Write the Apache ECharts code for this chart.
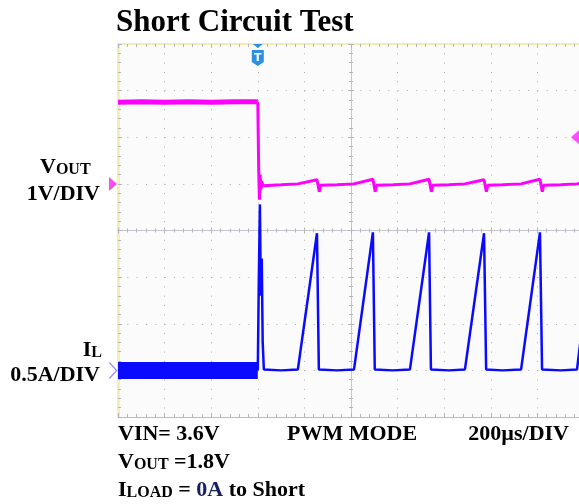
<!DOCTYPE html>
<html><head><meta charset="utf-8">
<script src="https://cdn.jsdelivr.net/npm/echarts@6/dist/echarts.min.js"></script>
<style>html,body{margin:0;padding:0;background:#fff}#c{width:579px;height:504px}</style>
</head><body><div id="c"></div>
<script>
// ---- data (time in µs, 200 µs/div; VOUT in V, 1 V/div; IL in A, 0.5 A/div) ----
const timeRange = [0, 2000];
const timePerDiv = 200;
const voutRange = [-5, 3];
const ilRange = [-0.5, 3.5];
const triggerTime = 600;
const triggerLevel = 1.0;

const voutPreT = [0, 100, 200, 300, 400, 500, 600];
const voutPreV = [1.75, 1.76, 1.75, 1.76, 1.75, 1.76, 1.76];
const voutPostT = [600, 604, 607, 610, 613, 617, 622, 630, 700, 772, 854, 864, 870, 940,
  1013, 1094, 1104, 1110, 1180, 1253, 1335, 1345, 1351, 1420, 1489, 1571, 1581, 1587, 1650,
  1730, 1811, 1821, 1827, 1900, 1970, 2000];
const voutPostV = [1.76, 0.26, -0.34, 0.2, -0.12, 0.06, -0.04, -0.03, -0.02, 0.0, 0.09, -0.17, -0.03, -0.02,
  0.0, 0.1, -0.17, -0.03, -0.02, 0.0, 0.1, -0.17, -0.03, -0.02, 0.0, 0.09, -0.17, -0.03, -0.02,
  0.0, 0.1, -0.17, -0.03, -0.02, 0.0, 0.03];

const ilPreT = [0, 600];
const ilPreA = [0, 0];
const ilPostT = [600, 604, 609, 613, 617, 621, 626, 700, 772, 854, 862, 940, 1013, 1094, 1102, 1180,
  1253, 1335, 1343, 1420, 1489, 1571, 1580, 1650, 1730, 1811, 1820, 1900, 1970, 2000];
const ilPostA = [0, 0.9, 1.78, 0.8, 1.2, 0.3, 0.01, 0.0, 0.01, 1.47, 0.01, 0.0, 0.01, 1.48, 0.01, 0.0,
  0.01, 1.48, 0.01, 0.0, 0.01, 1.47, 0.01, 0.0, 0.01, 1.48, 0.01, 0.0, 0.01, 0.63];

const titleText = 'Short Circuit Test';

const zip = (a, b) => a.map((v, i) => [v, b[i]]);
const SERIF = '"Liberation Serif", "Times New Roman", serif';

const dotted = { color: '#adadad', width: 1, type: [1, 8.32] };
const tickGray = { color: '#b4b4bc', width: 1 };

function deco(extra) {
  return Object.assign({ type: 'value', axisLabel: { show: false }, splitLine: { show: false } }, extra);
}

const chart = echarts.init(document.getElementById('c'), null, { renderer: 'canvas' });

function txt(text, pos, rich) {
  return Object.assign({
    text: text, padding: 0, itemGap: 0,
    textStyle: { color: '#000', fontFamily: SERIF, fontWeight: 'bold', fontSize: 22, rich: rich }
  }, pos);
}
const R = {
  b: { fontFamily: SERIF, fontWeight: 'bold', fontSize: 22, lineHeight: 22, color: '#000', verticalAlign: 'bottom' },
  s: { fontFamily: SERIF, fontWeight: 'bold', fontSize: 16, lineHeight: 18, color: '#000', verticalAlign: 'bottom' },
  n: { fontFamily: SERIF, fontWeight: 'bold', fontSize: 22, lineHeight: 22, color: '#17205e', verticalAlign: 'bottom' },
  t: { fontFamily: SERIF, fontWeight: 'bold', fontSize: 31, lineHeight: 31, color: '#000', verticalAlign: 'bottom' }
};

chart.setOption({
  animation: false,
  backgroundColor: '#ffffff',
  title: [
    txt('{t|' + titleText + '}', { left: 116, top: 7 }, R),
    txt('{b|V}{s|OUT}', { left: 40, top: 156 }, R),
    txt('{b|1V/DIV}', { right: 479, top: 183 }, R),
    txt('{b|I}{s|L}', { right: 477, top: 339 }, R),
    txt('{b|0.5A/DIV}', { right: 479, top: 364 }, R),
    txt('{b|VIN= 3.6V}', { left: 118, top: 423 }, R),
    txt('{b|PWM MODE}', { left: 287, top: 423 }, R),
    txt('{b|200µs/DIV}', { right: 10, top: 423 }, R),
    txt('{b|V}{s|OUT}{b| =1.8V}', { left: 118, top: 451 }, R),
    txt('{b|I}{s|LOAD}{b| = }{n|0A}{b| to Short}', { left: 118, top: 479 }, R)
  ],
  grid: { left: 118, top: 44, width: 466, height: 373, show: true, backgroundColor: '#fbfbfc', borderWidth: 0, containLabel: false, outerBoundsMode: 'none' },
  xAxis: [
    deco({ min: timeRange[0], max: timeRange[1], interval: timePerDiv, position: 'bottom',
      axisLine: { show: true, onZero: false, lineStyle: { color: '#b7b9d8', width: 1 } },
      axisTick: { show: true, inside: true, length: 4, lineStyle: tickGray },
      minorTick: { show: true, splitNumber: 5, length: 3, lineStyle: tickGray },
      splitLine: { show: true, lineStyle: dotted } }),
    deco({ min: timeRange[0], max: timeRange[1], interval: timePerDiv, position: 'top',
      axisLine: { show: true, onZero: false, lineStyle: { color: '#f2edb2', width: 2 } },
      axisTick: { show: true, inside: true, length: 4, lineStyle: tickGray },
      minorTick: { show: true, splitNumber: 5, length: 3, lineStyle: tickGray } }),
    deco({ min: -1000, max: 1000, interval: timePerDiv, position: 'bottom',
      axisLine: { show: true, onZero: true, onZeroAxisIndex: 2, lineStyle: { color: '#c6c6cc', width: 1 } },
      axisTick: { show: true, inside: true, length: 3, lineStyle: tickGray },
      minorTick: { show: true, splitNumber: 5, length: 2, lineStyle: tickGray } }),
    deco({ min: -1000, max: 1000, interval: timePerDiv, position: 'bottom',
      axisLine: { show: false, onZero: true, onZeroAxisIndex: 2 },
      axisTick: { show: true, inside: false, length: 3, lineStyle: tickGray },
      minorTick: { show: true, splitNumber: 5, length: 2, lineStyle: tickGray } })
  ],
  yAxis: [
    deco({ min: voutRange[0], max: voutRange[1], interval: 1, position: 'left',
      axisLine: { show: true, onZero: false, lineStyle: { color: '#f4efb6', width: 3 } },
      axisTick: { show: true, inside: true, length: 4, lineStyle: tickGray },
      minorTick: { show: true, splitNumber: 5, length: 3, lineStyle: tickGray },
      splitLine: { show: true, lineStyle: dotted } }),
    { type: 'value', min: ilRange[0], max: ilRange[1], interval: 0.5, show: false, axisLine: { onZero: false } },
    deco({ min: -4, max: 4, interval: 1, position: 'left',
      axisLine: { show: true, onZero: true, onZeroAxisIndex: 2, lineStyle: { color: '#c6c6cc', width: 1 } },
      axisTick: { show: true, inside: true, length: 3, lineStyle: tickGray },
      minorTick: { show: true, splitNumber: 5, length: 2, lineStyle: tickGray } }),
    deco({ min: -4, max: 4, interval: 1, position: 'left',
      axisLine: { show: false, onZero: true, onZeroAxisIndex: 2 },
      axisTick: { show: true, inside: false, length: 3, lineStyle: tickGray },
      minorTick: { show: true, splitNumber: 5, length: 2, lineStyle: tickGray } })
  ],
  series: [
    { name: 'VOUT before', type: 'line', xAxisIndex: 0, yAxisIndex: 0, data: zip(voutPreT, voutPreV),
      symbol: 'none', clip: false, lineStyle: { color: '#ff00ff', width: 5 }, itemStyle: { color: '#ff00ff' } },
    { name: 'VOUT', type: 'line', xAxisIndex: 0, yAxisIndex: 0, data: zip(voutPostT, voutPostV),
      symbol: 'none', clip: false, lineStyle: { color: '#ff00ff', width: 3 }, itemStyle: { color: '#ff00ff' },
      markPoint: {
        label: { show: false },
        data: [
          { coord: [timeRange[0], 0], symbol: 'triangle', symbolRotate: -90, symbolSize: [14, 8], symbolOffset: [-5, 0],
            itemStyle: { color: '#f24ef2' } },
          { coord: [timeRange[1], triggerLevel], symbol: 'triangle', symbolRotate: 90, symbolSize: [14, 8], symbolOffset: [-9, 0],
            itemStyle: { color: '#ff4cff' } },
          { coord: [triggerTime, voutRange[1]], symbol: 'path://M1,0 L11,0 L6,4 Z M0,6 L12,6 L12,18 L6,22 L0,18 Z',
            symbolSize: [12, 22], symbolOffset: [0, 11], itemStyle: { color: '#2b8fe3' },
            label: { show: true, formatter: 'T', color: '#fff', fontSize: 11, fontWeight: 'bold', fontFamily: 'DejaVu Sans', offset: [0, 3], position: 'inside' } }
        ]
      } },
    { name: 'IL before', type: 'line', xAxisIndex: 0, yAxisIndex: 1, data: zip(ilPreT, ilPreA),
      symbol: 'none', clip: false, lineStyle: { color: '#0a0aff', width: 17, cap: 'butt' }, itemStyle: { color: '#0000ff' } },
    { name: 'IL', type: 'line', xAxisIndex: 0, yAxisIndex: 1, data: zip(ilPostT, ilPostA),
      symbol: 'none', clip: false, lineStyle: { color: '#0a0aff', width: 2.5 }, itemStyle: { color: '#0000ff' },
      markPoint: {
        label: { show: false },
        data: [
          { coord: [timeRange[0], 0], symbol: 'path://M0,0 L2,0 L10,8 L2,16 L0,16 L8,8 Z', symbolSize: [9, 16], symbolOffset: [-5, 0],
            itemStyle: { color: '#8f8fff' } }
        ]
      } }
  ]
});
</script></body></html>
